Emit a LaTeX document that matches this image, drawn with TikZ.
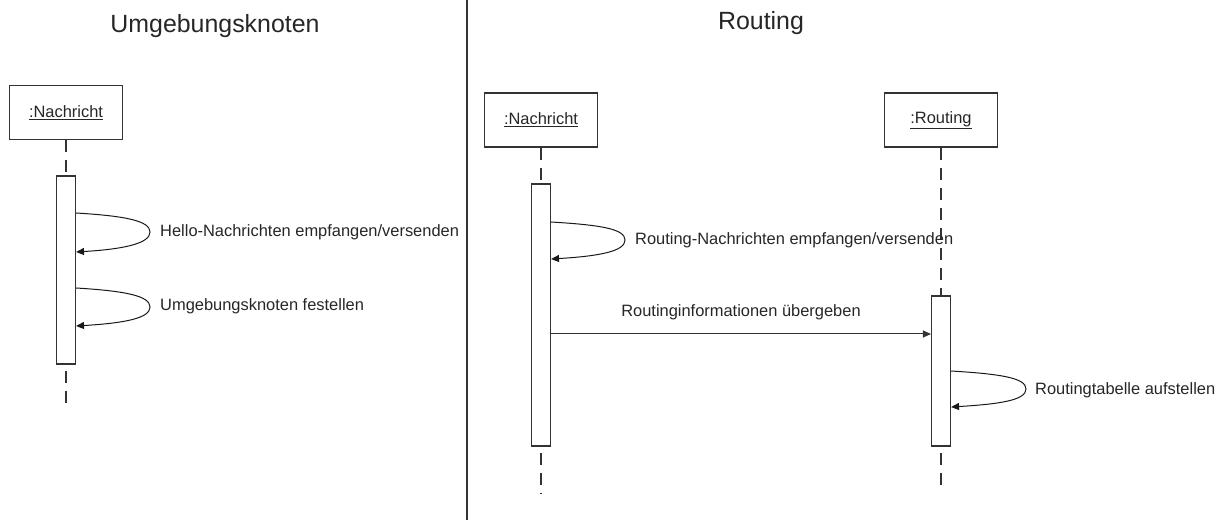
\documentclass[tikz,border=0pt]{standalone}
\usepackage{fontspec}
\setmainfont{Liberation Sans}
\usetikzlibrary{arrows.meta,positioning}

\tikzset{
  lifebox/.style={draw=black!80,line width=1.1bp,minimum width=113bp,minimum height=54bp,
                  inner sep=0pt,font=\fontsize{16.5}{20}\selectfont,text=black!85},
  activebar/.style={draw=black!80,fill=white,line width=1.1bp,minimum width=19bp,inner sep=0pt},
  lifeline/.style={draw=black!80,line width=1.1bp,dash pattern=on 12bp off 8bp},
  selfmsg/.style={draw=black!90,line width=1bp,-{Triangle[length=8bp,width=7bp]}},
  msg/.style={draw=black!80,line width=1bp,-{Triangle[length=8bp,width=7bp]}},
  msglabel/.style={font=\fontsize{16.5}{20}\selectfont,text=black!85,inner sep=0pt},
  heading/.style={font=\fontsize{25}{30}\selectfont,text=black!85,inner sep=0pt,anchor=base}
}

\begin{document}
\begin{tikzpicture}[x=1bp,y=-1bp]
  \useasboundingbox (0,0) rectangle (1227,520);

  % headings and divider
  \node[heading] (tleft)  at (215,33) {Umgebungsknoten};
  \node[heading] (tright) at (761,30) {Routing};
  \draw[black!80,line width=1.2bp] (467,0) -- (467,520);

  % objects
  \node[lifebox] (lobj) at (66,112.5)  {\underline{:Nachricht}};
  \node[lifebox] (mobj) at (541,120)   {\underline{:Nachricht}};
  \node[lifebox] (robj) at (941,120)   {\underline{:Routing}};

  % activation bars
  \node[activebar,minimum height=188bp] (lbar) at (66,270) {};
  \node[activebar,minimum height=262bp] (mbar) at (541,315) {};
  \node[activebar,minimum height=150bp] (rbar) at (941,371) {};

  % lifelines, above and below the bars
  \coordinate (lend) at (66,403);
  \coordinate (mend) at (541,493);
  \coordinate (rend) at (941,492);
  \draw[lifeline] (lobj.south) -- (lbar.north);
  \draw[lifeline] (mobj.south) -- (mbar.north);
  \draw[lifeline] (robj.south) -- (rbar.north);
  \draw[lifeline] (lbar.south) ++(0,6) -- (lend);
  \draw[lifeline] (mbar.south) ++(0,6) -- (mend);
  \draw[lifeline] (rbar.south) ++(0,6) -- (rend);

  % left: self messages
  \coordinate (l1s) at (lbar.east |- 0,213);
  \coordinate (l1t) at (150,232);
  \coordinate (l1e) at (lbar.east |- 0,252);
  \draw[selfmsg] (l1s) .. controls +(50,3) and +(0,-11) .. (l1t)
                       .. controls +(0,11) and +(50,-3) .. (l1e);
  \node[msglabel,anchor=base west] (l1lab) at (160,237) {Hello-Nachrichten empfangen/versenden};

  \coordinate (l2s) at (lbar.east |- 0,288);
  \coordinate (l2t) at (150,307);
  \coordinate (l2e) at (lbar.east |- 0,326);
  \draw[selfmsg] (l2s) .. controls +(50,3) and +(0,-11) .. (l2t)
                       .. controls +(0,11) and +(50,-3) .. (l2e);
  \node[msglabel,anchor=base west] (l2lab) at (160,311) {Umgebungsknoten festellen};

  % right: self message on :Nachricht
  \coordinate (m1s) at (mbar.east |- 0,222);
  \coordinate (m1t) at (625,240);
  \coordinate (m1e) at (mbar.east |- 0,259);
  \draw[selfmsg] (m1s) .. controls +(50,3) and +(0,-11) .. (m1t)
                       .. controls +(0,11) and +(50,-3) .. (m1e);
  \node[msglabel,anchor=base west] (m1lab) at (635,245) {Routing-Nachrichten empfangen/versenden};

  % message to :Routing
  \draw[msg] (mbar.east |- 0,334) -- (rbar.west |- 0,334)
     node[msglabel,midway,above=13.5bp] (m2lab) {Routinginformationen übergeben};

  % right: self message on :Routing
  \coordinate (r1s) at (rbar.east |- 0,371);
  \coordinate (r1t) at (1026,389);
  \coordinate (r1e) at (rbar.east |- 0,407);
  \draw[selfmsg] (r1s) .. controls +(50,3) and +(0,-11) .. (r1t)
                       .. controls +(0,11) and +(50,-3) .. (r1e);
  \node[msglabel,anchor=base west] (r1lab) at (1035,394) {Routingtabelle aufstellen};
\end{tikzpicture}
\end{document}
